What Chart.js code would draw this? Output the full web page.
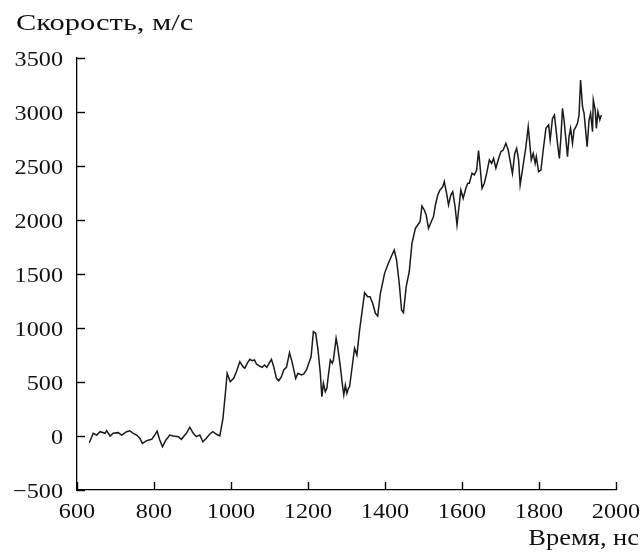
<!DOCTYPE html>
<html>
<head>
<meta charset="utf-8">
<script src="https://cdn.jsdelivr.net/npm/chart.js@4"></script>
<style>
  body { margin: 0; background: #fff; }
  canvas { display: block; }
</style>
</head>
<body>
<canvas id="myChart" width="644" height="553"></canvas>
<script>
// time, ns
const timeNs = [
  632, 642, 651, 660, 673, 677, 686, 694, 707, 716, 729, 737, 746, 755, 763, 770, 781, 794, 802, 808,
  815, 822, 831, 841, 850, 863, 871, 884, 893, 902, 910, 919, 927, 936, 945, 953, 962, 971, 979, 985,
  990, 998, 1007, 1014, 1023, 1031, 1036, 1042, 1049, 1055, 1061, 1066, 1074, 1081, 1087, 1093, 1099, 1105, 1111, 1118,
  1124, 1131, 1137, 1144, 1152, 1159, 1168, 1174, 1183, 1189, 1196, 1202, 1208, 1214, 1220, 1226, 1232, 1236, 1240, 1245,
  1249, 1253, 1258, 1263, 1266, 1273, 1277, 1284, 1290, 1293, 1297, 1301, 1305, 1308, 1312, 1318, 1321, 1327, 1334, 1347,
  1355, 1361, 1368, 1375, 1381, 1388, 1399, 1407, 1416, 1424, 1430, 1437, 1443, 1448, 1455, 1463, 1470, 1479, 1485, 1491,
  1496, 1502, 1507, 1513, 1520, 1526, 1531, 1537, 1543, 1550, 1554, 1560, 1565, 1571, 1576, 1582, 1587, 1593, 1597, 1603,
  1610, 1615, 1619, 1626, 1632, 1638, 1643, 1647, 1652, 1658, 1664, 1671, 1677, 1682, 1688, 1694, 1701, 1707, 1714, 1720,
  1727, 1731, 1737, 1742, 1747, 1751, 1757, 1766, 1772, 1776, 1780, 1785, 1790, 1793, 1799, 1805, 1811, 1818, 1825, 1829,
  1835, 1840, 1844, 1848, 1853, 1857, 1861, 1865, 1870, 1874, 1878, 1882, 1887, 1891, 1896, 1900, 1904, 1908, 1913, 1917,
  1921, 1925, 1930, 1934, 1939, 1941, 1946, 1949, 1953, 1958, 1962
];
// speed, m/s
const speedMs = [
  -62, 25, 9, 40, 25, 49, 0, 25, 31, 9, 40, 49, 25, 9, -21, -68, -43, -31, 9, 46,
  -37, -99, -37, 9, 0, -6, -31, 25, 81, 25, -6, 9, -53, -21, 19, 40, 16, 0, 160, 380,
  580, 503, 534, 595, 688, 642, 627, 673, 710, 698, 704, 667, 648, 636, 657, 636, 673, 710, 642, 534,
  512, 549, 611, 636, 771, 679, 534, 580, 565, 574, 611, 673, 734, 966, 951, 796, 580, 364, 488, 410,
  441, 565, 704, 673, 704, 905, 827, 642, 456, 380, 470, 395, 441, 456, 565, 734, 812, 750, 981, 1327,
  1290, 1290, 1229, 1136, 1111, 1321, 1506, 1583, 1660, 1722, 1630, 1414, 1167, 1142, 1383, 1521, 1784, 1923, 1954, 1984,
  2130, 2093, 2046, 1923, 1984, 2031, 2139, 2231, 2278, 2308, 2355, 2247, 2139, 2231, 2262, 2123, 1954, 2150, 2278, 2201,
  2293, 2340, 2340, 2432, 2417, 2463, 2642, 2494, 2293, 2340, 2432, 2556, 2525, 2571, 2479, 2556, 2633, 2648, 2710, 2648,
  2509, 2432, 2617, 2664, 2556, 2324, 2463, 2679, 2864, 2710, 2556, 2617, 2525, 2586, 2448, 2463, 2648, 2849, 2880, 2741,
  2941, 2972, 2849, 2710, 2571, 2772, 3034, 2926, 2741, 2586, 2772, 2849, 2710, 2833, 2864, 2895, 2972, 3296, 3049, 2988,
  2833, 2679, 2926, 2988, 2818, 3111, 3019, 2849, 3003, 2926, 2972
];
const xTicks = [600, 800, 1000, 1200, 1400, 1600, 1800, 2000];
const yTicks = [-500, 0, 500, 1000, 1500, 2000, 2500, 3000, 3500];
const yLabel = "Скорость, м/с";
const xLabel = "Время, нс";

const points = timeNs.map((t, i) => ({ x: t, y: speedMs[i] }));
const fontFamily = "'Liberation Serif', 'DejaVu Serif', serif";

// the printed font is a bit wider than Liberation Serif, so stretch text sideways
function wideText(ctx, text, x, y, align, sx) {
  ctx.save();
  ctx.translate(x, y);
  ctx.scale(sx, 1);
  ctx.textAlign = align;
  ctx.fillText(text, 0, 0);
  ctx.restore();
}

const axisDecor = {
  id: 'axisDecor',
  afterDraw: (chart) => {
    const ctx = chart.ctx;
    const area = chart.chartArea;
    const xs = chart.scales.x;
    const ys = chart.scales.y;
    ctx.save();
    // ticks point into the plot
    ctx.strokeStyle = '#000';
    ctx.lineWidth = 1.4;
    for (const v of xTicks) {
      const px = Math.round(xs.getPixelForValue(v)) + 0.5;
      ctx.beginPath();
      ctx.moveTo(px, area.bottom);
      ctx.lineTo(px, area.bottom - 8);
      ctx.stroke();
    }
    for (const v of yTicks) {
      const py = Math.round(ys.getPixelForValue(v)) + 0.5;
      ctx.beginPath();
      ctx.moveTo(area.left, py);
      ctx.lineTo(area.left + 8, py);
      ctx.stroke();
    }

    ctx.fillStyle = '#111';
    ctx.textBaseline = 'alphabetic';
    ctx.font = '22px ' + fontFamily;
    xTicks.forEach(v => {
      wideText(ctx, String(v), xs.getPixelForValue(v), area.bottom + 28, 'center', 1.1);
    });
    yTicks.forEach(v => {
      const txt = v < 0 ? '\u2212' + Math.abs(v) : String(v);
      wideText(ctx, txt, area.left - 14, ys.getPixelForValue(v) + 7.5, 'right', 1.1);
    });

    ctx.font = '24px ' + fontFamily;
    wideText(ctx, yLabel, 16, 30, 'left', 1.27);
    ctx.font = '23px ' + fontFamily;
    wideText(ctx, xLabel, 639, 545, 'right', 1.15);
    ctx.restore();
  }
};

const config = {
  type: 'line',
  data: {
    datasets: [{
      data: points,
      borderColor: '#1a1a1a',
      borderWidth: 1.5,
      pointRadius: 0,
      tension: 0,
      fill: false
    }]
  },
  options: {
    responsive: false,
    animation: false,
    layout: { padding: { top: 58, right: 28, left: 0, bottom: 0 } },
    plugins: { legend: { display: false }, tooltip: { enabled: false } },
    scales: {
      x: {
        type: 'linear',
        min: 600,
        max: 2000,
        afterBuildTicks: (scale) => { scale.ticks = xTicks.map(v => ({ value: v })); },
        afterFit: (scale) => { scale.height = 63; },
        grid: { display: false, drawTicks: false },
        border: { display: true, color: '#000', width: 1.3 },
        ticks: { display: false }
      },
      y: {
        type: 'linear',
        min: -500,
        max: 3500,
        afterBuildTicks: (scale) => { scale.ticks = yTicks.map(v => ({ value: v })); },
        afterFit: (scale) => { scale.width = 77; },
        grid: { display: false, drawTicks: false },
        border: { display: true, color: '#000', width: 1.3 },
        ticks: { display: false }
      }
    }
  },
  plugins: [axisDecor]
};

const myChart = new Chart(document.getElementById('myChart'), config);
</script>
</body>
</html>
